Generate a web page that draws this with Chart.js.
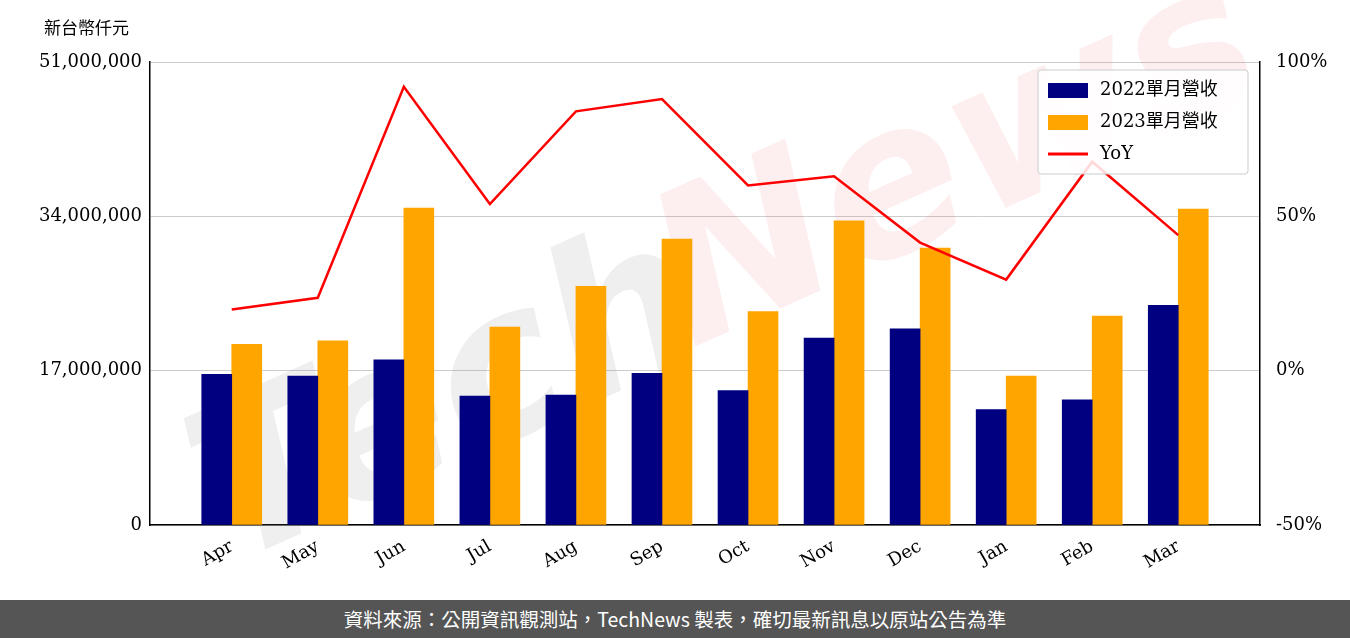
<!DOCTYPE html>
<html><head><meta charset="utf-8">
<script src="https://cdn.jsdelivr.net/npm/chart.js@4/dist/chart.umd.min.js"></script>
<style>
body{margin:0;background:#fff;width:1350px;height:638px;overflow:hidden;}
#wrap{position:absolute;left:0;top:0;width:1350px;height:600px;}
#foot{position:absolute;left:0;top:600px;width:1350px;height:38px;background:#555;color:#fff;font:19.5px "Noto Sans CJK TC";text-align:center;line-height:38px;}
#unit{position:absolute;left:44px;top:14px;font:17px "Noto Sans CJK TC";color:#000;}
</style></head><body>
<div id="wrap"><canvas id="c" width="1350" height="600"></canvas></div>
<div id="unit">新台幣仟元</div>
<div id="foot">資料來源：公開資訊觀測站，TechNews 製表，確切最新訊息以原站公告為準</div>
<script>
const months = ['Apr','May','Jun','Jul','Aug','Sep','Oct','Nov','Dec','Jan','Feb','Mar'];
const rev2022 = [16600000,16400000,18200000,14200000,14300000,16700000,14800000,20600000,21600000,12700000,13800000,24200000];
const rev2023 = [19900000,20300000,34900000,21800000,26300000,31500000,23500000,33500000,30500000,16400000,23000000,34800000];
const yoy = [19.8,23.6,92,54,84,88,60,63,41.5,29.5,67.7,43.9];
const leftTicks = [0,17000000,34000000,51000000];
const rightTicks = [-50,0,50,100];
const serif = '"DejaVu Serif"';
const pts = arr => arr.map((v, i) => ({x: i, y: v}));

const legendBox = {
  id: 'legendBox',
  afterDraw(chart) {
    const ctx = chart.ctx, a = chart.chartArea;
    const w = 210, h = 104, x = a.right - w - 12, y = a.top + 8;
    ctx.save();
    ctx.fillStyle = 'rgba(255,255,255,0.85)';
    ctx.strokeStyle = '#ccc';
    ctx.lineWidth = 1;
    ctx.beginPath(); ctx.roundRect(x, y, w, h, 3); ctx.fill(); ctx.stroke();
    ctx.font = '18px ' + serif + ',"Noto Sans CJK TC"';
    ctx.textBaseline = 'middle';
    const order = [1, 2, 0];
    order.forEach((di, i) => {
      const ds = chart.data.datasets[di];
      const yy = y + 20 + i * 32;
      if (ds.type === 'line') {
        ctx.strokeStyle = ds.borderColor; ctx.lineWidth = 3;
        ctx.beginPath(); ctx.moveTo(x + 10, yy); ctx.lineTo(x + 50, yy); ctx.stroke();
      } else {
        ctx.fillStyle = ds.backgroundColor; ctx.fillRect(x + 10, yy - 7, 40, 15);
      }
      ctx.fillStyle = '#000';
      ctx.fillText(ds.label, x + 62, yy);
    });
    ctx.restore();
  }
};

const watermark = {
  id: 'watermark',
  beforeDatasetsDraw(chart) {
    const ctx = chart.ctx;
    ctx.save();
    ctx.translate(690, 300);
    ctx.rotate(-0.42);
    ctx.font = 'italic bold 210px "DejaVu Sans"';
    ctx.textAlign = 'center'; ctx.textBaseline = 'middle';
    ctx.fillStyle = 'rgba(120,120,120,0.12)';
    ctx.fillText('Tech', -260, 0);
    ctx.fillStyle = 'rgba(230,80,80,0.09)';
    ctx.fillText('News', 300, -10);
    ctx.restore();
  }
};

new Chart(document.getElementById('c'), {
  data: {
    datasets: [
      {type:'line', label:'YoY', data:pts(yoy), yAxisID:'y1', borderColor:'#ff0000', borderWidth:2.5, pointRadius:0, tension:0, order:0},
      {type:'bar', label:'2022單月營收', data:pts(rev2022), yAxisID:'y', backgroundColor:'#000080', barThickness:30, order:1},
      {type:'bar', label:'2023單月營收', data:pts(rev2023), yAxisID:'y', backgroundColor:'#ffa500', barThickness:30, order:1}
    ]
  },
  options: {
    responsive:false, animation:false,
    layout:{padding:{top:62,left:0,right:0,bottom:0}},
    plugins:{legend:{display:false}, tooltip:{enabled:false}},
    scales:{
      x:{
        type:'linear', min:-0.95, max:11.95, offset:false,
        afterBuildTicks(s){ s.ticks = months.map((m, i) => ({value:i})); },
        grid:{display:false, drawTicks:true},
        border:{color:'#000', width:1.5},
        ticks:{color:'#000', font:{family:serif,size:18}, maxRotation:30, minRotation:30, callback:v=>months[v]},
        afterFit(s){ s.height = 75; }
      },
      y:{
        position:'left', min:0, max:51000000,
        afterBuildTicks(s){ s.ticks = leftTicks.map(v=>({value:v})); },
        grid:{color:'#ccc', drawTicks:false},
        border:{color:'#000', width:1.5},
        ticks:{color:'#000', padding:8, font:{family:serif,size:18}, callback:v=>v.toLocaleString('en-US')},
        afterFit(s){ s.width = 150; }
      },
      y1:{
        position:'right', min:-50, max:100,
        afterBuildTicks(s){ s.ticks = rightTicks.map(v=>({value:v})); },
        grid:{display:false},
        border:{color:'#000', width:1.5},
        ticks:{color:'#000', padding:8, font:{family:serif,size:18}, callback:v=>v+'%'},
        afterFit(s){ s.width = 90; }
      }
    }
  },
  plugins:[watermark, legendBox]
});
</script>
</body></html>
